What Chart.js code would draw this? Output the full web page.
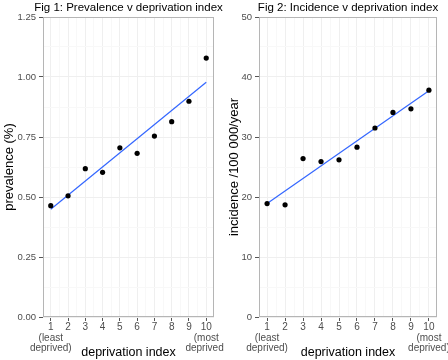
<!DOCTYPE html>
<html><head><meta charset="utf-8">
<script src="https://cdn.jsdelivr.net/npm/chart.js@4/dist/chart.umd.min.js"></script>
<style>
html,body{margin:0;padding:0;background:#fff;}
#wrap{display:flex;width:448px;height:360px;}
.cell{position:relative;width:224px;height:360px;overflow:hidden;}
canvas{display:block;}
</style></head><body>
<div id="wrap"><div class="cell"><canvas id="c1" width="224" height="360"></canvas></div><div class="cell"><canvas id="c2" width="224" height="360"></canvas></div></div>
<script>
// ---- data ----
const deprivationIndex = [1,2,3,4,5,6,7,8,9,10];
const xTickLabels = [["1","(least","deprived)"],"2","3","4","5","6","7","8","9",["10","(most","deprived)"]];
const prevalence = [0.464,0.505,0.618,0.603,0.705,0.682,0.754,0.814,0.899,1.079];
const prevalenceFit = [0.449, 0.978];   // fitted line at index 1 and 10
const incidence = [18.9,18.7,26.4,25.9,26.2,28.3,31.5,34.1,34.7,37.8];
const incidenceFit = [18.9, 37.7];       // fitted line at index 1 and 10
const prevTicks = [0,0.25,0.5,0.75,1.0,1.25];
const incTicks = [0,10,20,30,40,50];

const FONT = "'Liberation Sans', Arial, Helvetica, sans-serif";

const framePlugin = {
  id: 'frame',
  afterDraw(chart, args, opts) {
    const a = chart.chartArea, ctx = chart.ctx;
    ctx.save();
    ctx.strokeStyle = '#b5b5b5';
    ctx.lineWidth = 1;
    ctx.strokeRect(Math.round(a.left) + 0.5, Math.round(a.top) + 0.5, Math.round(a.right - a.left) - 1, Math.round(a.bottom - a.top) - 1);
    // panel title, centred over the plotting area
    ctx.fillStyle = '#000';
    ctx.font = '11.5px ' + FONT;
    ctx.textAlign = 'center';
    ctx.textBaseline = 'middle';
    ctx.fillText(opts.text, (a.left + a.right) / 2, 8);
    ctx.restore();
  }
};

function isMajor(v, majors) { return majors.some(m => Math.abs(m - v) < 1e-9); }

function makeChart(id, title, yTitle, values, fit, yTicks, yFmt, yWidth, yTitlePad, rightPad) {
  const pts = deprivationIndex.map((x, i) => ({x: x, y: values[i]}));
  const fitPts = [{x: deprivationIndex[0], y: fit[0]}, {x: deprivationIndex[deprivationIndex.length - 1], y: fit[1]}];
  const yStep = yTicks[1] - yTicks[0];
  return new Chart(document.getElementById(id), {
    type: 'scatter',
    data: {
      datasets: [
        {type: 'line', data: fitPts, borderColor: '#3366FF', borderWidth: 1.2, pointRadius: 0, fill: false, order: 2},
        {data: pts, backgroundColor: '#000', borderColor: '#000', pointRadius: 2.6, borderWidth: 0, order: 1}
      ]
    },
    options: {
      responsive: false,
      animation: false,
      layout: {padding: {left: 0, right: rightPad, top: 17, bottom: 0}},
      plugins: {
        legend: {display: false},
        tooltip: {enabled: false},
        title: {display: false},
        frame: {text: title}
      },
      scales: {
        x: {
          type: 'linear', min: 0.55, max: 10.45,
          afterBuildTicks(axis) {
            const t = [];
            deprivationIndex.forEach((v, i) => { t.push({value: v}); if (i < deprivationIndex.length - 1) t.push({value: v + 0.5}); });
            axis.ticks = t;
          },
          afterFit(s) { s.height = 43; s.paddingLeft = 0; s.paddingRight = 0; },
          ticks: {
            autoSkip: false, maxRotation: 0, minRotation: 0, padding: 1.5, color: '#4d4d4d',
            font: {family: FONT, size: 10, lineHeight: 1.02},
            callback(v) { const i = deprivationIndex.indexOf(v); return i >= 0 ? xTickLabels[i] : ''; }
          },
          grid: {
            color: c => (c.tick && Number.isInteger(c.tick.value)) ? '#efefef' : '#f8f8f8',
            tickColor: c => (c.tick && Number.isInteger(c.tick.value)) ? '#555' : 'rgba(0,0,0,0)',
            tickLength: 4, lineWidth: 1
          },
          border: {display: false},
          title: {display: true, text: 'deprivation index', color: '#000',
            font: {family: FONT, size: 12.5, lineHeight: 1.2}, padding: {top: 0, bottom: 0}}
        },
        y: {
          min: yTicks[0], max: yTicks[yTicks.length - 1],
          afterBuildTicks(axis) {
            const t = [];
            yTicks.forEach((v, i) => { t.push({value: v}); if (i < yTicks.length - 1) t.push({value: v + yStep / 2}); });
            axis.ticks = t;
          },
          afterFit(s) { s.width = yWidth; s.paddingTop = 0; s.paddingBottom = 0; },
          ticks: {
            autoSkip: false, padding: 3, color: '#4d4d4d',
            font: {family: FONT, size: 9.5},
            callback(v) { return isMajor(v, yTicks) ? yFmt(v) : ''; }
          },
          grid: {
            color: c => (c.tick && isMajor(c.tick.value, yTicks)) ? '#efefef' : '#f8f8f8',
            tickColor: c => (c.tick && isMajor(c.tick.value, yTicks)) ? '#555' : 'rgba(0,0,0,0)',
            tickLength: 4, lineWidth: 1
          },
          border: {display: false},
          title: {display: true, text: yTitle, color: '#000',
            font: {family: FONT, size: 13, lineHeight: 1.2}, padding: {top: yTitlePad, bottom: 0}}
        }
      }
    },
    plugins: [framePlugin]
  });
}

makeChart('c1', 'Fig 1: Prevalence v deprivation index', 'prevalence (%)', prevalence, prevalenceFit,
  prevTicks, v => v.toFixed(2), 43, 1.5, 10);
makeChart('c2', 'Fig 2: Incidence v deprivation index', 'incidence /100 000/year', incidence, incidenceFit,
  incTicks, v => String(v), 35, 3, 11);
</script>
</body></html>
